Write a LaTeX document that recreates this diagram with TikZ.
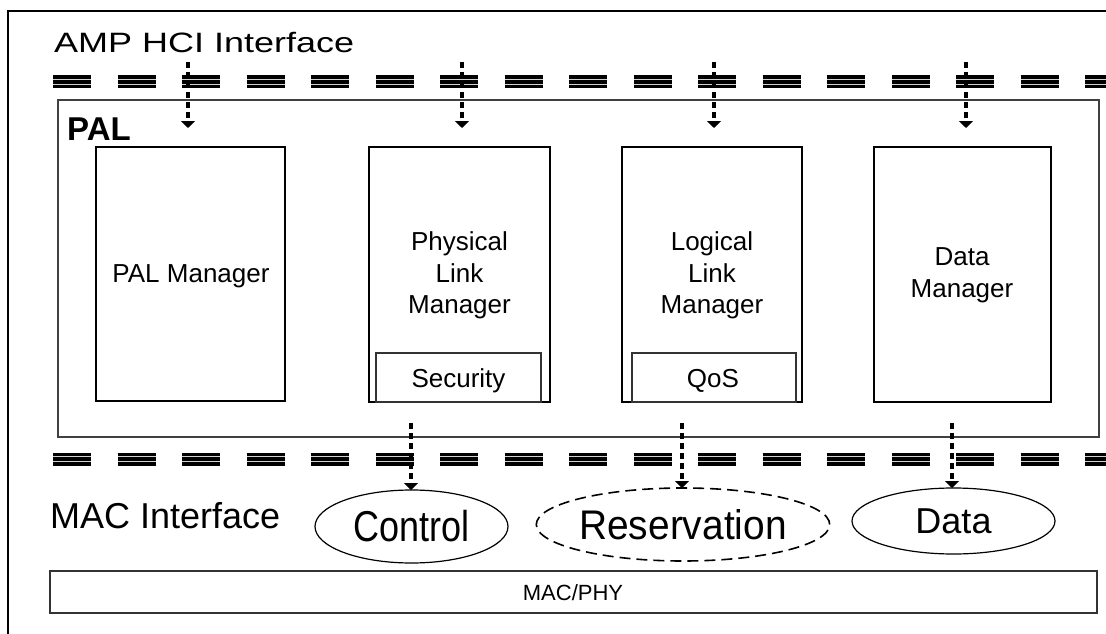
\documentclass[tikz,border=0pt]{standalone}
\usepackage{fontspec}
\setmainfont{Liberation Sans}
\usetikzlibrary{shapes.geometric,arrows.meta}
\tikzset{
  boxnode/.style={draw=black, line width=1.1pt, rectangle, inner sep=0pt, outer sep=0pt, anchor=north west},
  palnode/.style={draw=black!75, line width=1.3pt, rectangle, inner sep=0pt, outer sep=0pt, anchor=north west},
  subnode/.style={draw=black!80, line width=1.1pt, rectangle, inner sep=0pt, outer sep=0pt, anchor=north west,
                  font=\fontsize{26}{31.5}\selectfont},
  txt/.style={inner sep=0pt, align=center, font=\fontsize{26}{31.5}\selectfont},
  ovalnode/.style={draw=black, line width=1.2pt, ellipse, inner sep=0pt, outer sep=0pt, font=\fontsize{36}{40}\selectfont},
  flowarrow/.style={line width=4pt, dash pattern=on 6pt off 4pt, -{Triangle[width=14pt,length=7pt]}},
  bandblack/.style={line width=13pt, black, dash pattern=on 38pt off 26.5pt},
  bandwhite/.style={line width=0.9pt, white!65!gray, dash pattern=on 38pt off 26.5pt},
}
\begin{document}
\begin{tikzpicture}[x=1pt,y=-1pt]
\useasboundingbox (0,0) rectangle (1106,634);
\clip (0,0) rectangle (1106,634);
\fill[white] (0,0) rectangle (1106,634);

% partial outer frame
\draw[line width=2pt] (8,634) -- (8,11) -- (1106,11);

% interface bands
\foreach \yy in {82,459}{
  \draw[bandblack] (53,\yy) -- (1130,\yy);
  \draw[bandwhite] (53,\yy-2.2) -- (1130,\yy-2.2);
  \draw[bandwhite] (53,\yy+2.2) -- (1130,\yy+2.2);
}

% labels
\node[inner sep=0pt, anchor=base west] (amp) at (54,53)
  {\scalebox{1.285}[1]{\fontsize{28}{32}\selectfont AMP HCI Interface}};
\node[inner sep=0pt, anchor=base west] (macif) at (50,528)
  {\fontsize{36}{40}\selectfont MAC Interface};

% PAL container
\node[palnode, minimum width=1041pt, minimum height=337pt] (pal) at (58,100) {};
\node[inner sep=0pt, anchor=base west, font=\fontsize{33}{36}\selectfont\bfseries] (palt) at (67,140) {PAL};

% component boxes
\node[boxnode, minimum width=189pt, minimum height=254pt] (pm) at (96,147) {};
\node[boxnode, minimum width=181pt, minimum height=255pt] (plm) at (369,147) {};
\node[boxnode, minimum width=180pt, minimum height=255pt] (llm) at (622,147) {};
\node[boxnode, minimum width=177pt, minimum height=255pt] (dm) at (874,147) {};

\node[txt, anchor=base] (pmt) at (191,282) {PAL Manager};
\node[txt, anchor=base] (plmt1) at (459.5,250) {Physical};
\node[txt, anchor=base] (plmt2) at (459.5,282) {Link};
\node[txt, anchor=base] (plmt3) at (459.5,313) {Manager};
\node[txt, anchor=base] (llmt1) at (712,250) {Logical};
\node[txt, anchor=base] (llmt2) at (712,282) {Link};
\node[txt, anchor=base] (llmt3) at (712,313) {Manager};
\node[txt, anchor=base] (dmt1) at (962,265) {Data};
\node[txt, anchor=base] (dmt2) at (962,297) {Manager};

\node[subnode, minimum width=165pt, minimum height=49pt] (sec) at (376,353) {};
\node[txt, anchor=base] (sect) at (458.5,387) {Security};
\node[subnode, minimum width=164pt, minimum height=49pt] (qos) at (632,353) {};
\node[txt, anchor=base] (qost) at (713,387) {QoS};

% MAC/PHY
\node[boxnode, draw=black!80, minimum width=1047pt, minimum height=42pt] (mac) at (50,571) {};
\node[inner sep=0pt, anchor=base, font=\fontsize{22}{26}\selectfont] (mact) at (573,600) {MAC/PHY};

% ovals
\node[ovalnode, minimum width=193pt, minimum height=73pt] (ctl) at (411.5,526.5)
  {\scalebox{1}[1.2]{Control}};
\node[ovalnode, dash pattern=on 11pt off 6pt, line width=1.6pt, minimum width=265pt, minimum height=73pt] (res) at (683,524.5)
  {\scalebox{1.08}[1.15]{Reservation}};
\node[ovalnode, minimum width=203pt, minimum height=66pt] (dat) at (953.5,521)
  {Data};

% top arrows
\coordinate (t1s) at (188,62);   \coordinate (t1e) at (188,128);
\coordinate (t2s) at (462,62);   \coordinate (t2e) at (462,128);
\coordinate (t3s) at (714,62);   \coordinate (t3e) at (714,128);
\coordinate (t4s) at (966,62);   \coordinate (t4e) at (966,128);
\draw[flowarrow] (t1s) -- (t1e);
\draw[flowarrow] (t2s) -- (t2e);
\draw[flowarrow] (t3s) -- (t3e);
\draw[flowarrow] (t4s) -- (t4e);

% bottom arrows
\coordinate (b1s) at (411,423);
\coordinate (b2s) at (682,423);
\coordinate (b3s) at (952,423);
\draw[flowarrow] (b1s) -- (b1s |- ctl.north);
\draw[flowarrow] (b2s) -- (b2s |- res.north);
\draw[flowarrow] (b3s) -- (b3s |- dat.north);
\end{tikzpicture}
\end{document}
